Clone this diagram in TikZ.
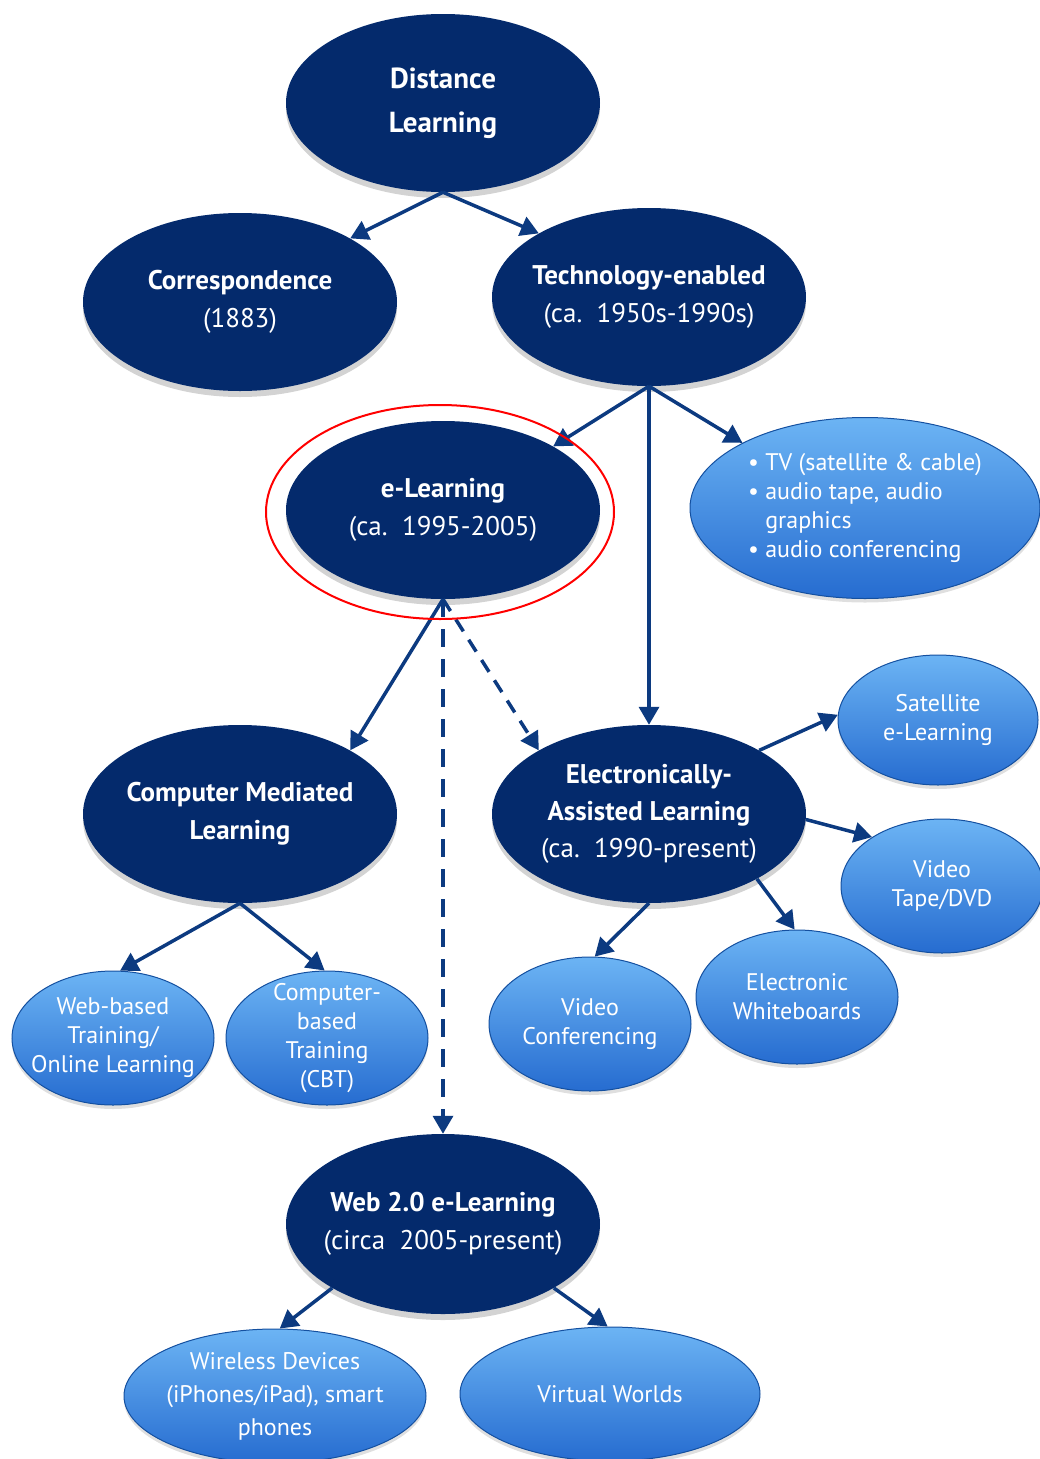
\documentclass[tikz,border=0pt]{standalone}
\usepackage{fontspec}
\setmainfont{PT Sans}
\usetikzlibrary{shapes.geometric,arrows.meta,shadows}

\definecolor{navy}{RGB}{4,42,108}
\definecolor{linkblue}{RGB}{12,58,128}
\definecolor{lighttop}{RGB}{108,180,244}
\definecolor{lightbot}{RGB}{38,108,208}
\definecolor{lightrim}{RGB}{20,80,160}

\begin{document}
\begin{tikzpicture}[x=1pt,y=-1pt,
  dark/.style={ellipse,fill=navy,text=white,inner sep=-30pt,
    minimum width=314pt,minimum height=178pt,align=center,
    font=\fontsize{27}{38}\selectfont,
    drop shadow={shadow xshift=0pt,shadow yshift=-6pt,opacity=0.35}},
  light/.style={ellipse,top color=lighttop,bottom color=lightbot,draw=lightrim,
    line width=1pt,text=white,inner sep=-30pt,
    minimum width=202pt,minimum height=134pt,align=center,
    font=\fontsize{24}{29}\selectfont,
    drop shadow={shadow xshift=0pt,shadow yshift=-4pt,opacity=0.25}},
  link/.style={draw=linkblue,line width=3.5pt,
    -{Triangle[length=18pt,width=20pt]}},
  dashlink/.style={link,dash pattern=on 18pt off 12pt}]

\useasboundingbox (0,0) rectangle (1039,1459);

\node[dark,font=\bfseries\fontsize{29}{44}\selectfont] (dl) at (443,103) {Distance\\Learning};
\node[dark] (corr) at (240,302) {\textbf{Correspondence}\\(1883)};
\node[dark] (tech) at (649,297) {\textbf{Technology-enabled}\\(ca.~~1950s-1990s)};
\node[dark] (el) at (443,510) {\textbf{e-Learning}\\(ca.~~1995-2005)};
\node[light,align=left,minimum width=350pt,minimum height=181pt] (tv) at (865,508)
  {\textbullet~TV (satellite \& cable)\\\textbullet~audio tape, audio\\\phantom{\textbullet~}graphics\\\textbullet~audio conferencing};

\node[dark,font=\bfseries\fontsize{27}{38}\selectfont] (cml) at (240,814) {Computer Mediated\\Learning};
\node[dark,font=\fontsize{27}{37}\selectfont] (eal) at (649,814) {\textbf{Electronically-}\\\textbf{Assisted Learning}\\(ca.~~1990-present)};

\node[light,minimum width=200pt,minimum height=130pt] (sat) at (938,720) {Satellite\\e-Learning};
\node[light] (vtd) at (942,886) {Video\\Tape/DVD};
\node[light] (ewb) at (797,997) {Electronic\\Whiteboards};
\node[light] (vconf) at (590,1024) {Video\\Conferencing};
\node[light] (wbt) at (113,1038) {Web-based\\Training/\\Online Learning};
\node[light] (cbt) at (327,1038) {Computer-\\based\\Training\\(CBT)};

\node[dark,minimum height=180pt] (web) at (443,1224) {\textbf{Web 2.0 e-Learning}\\(circa~~2005-present)};
\node[light,minimum width=302pt,minimum height=134pt,font=\fontsize{24}{33}\selectfont] (wless) at (275,1396)
  {Wireless Devices\\(iPhones/iPad), smart\\phones};
\node[light,minimum width=300pt,minimum height=134pt] (vworld) at (610,1394) {Virtual Worlds};

% arrows
\draw[link] (dl.south) -- (corr.30);
\draw[link] (dl.south) -- (tech.150);
\draw[link] (tech.south) -- (el.30);
\draw[link] (tech.south) -- (tv.152);
\draw[link] (tech.south) -- (eal.north);
\draw[link] (el.south) -- (cml.30);
\draw[dashlink,dash pattern=on 14pt off 10pt] (el.south) -- (eal.150);
\draw[dashlink] (el.south) -- (web.north);
\draw[link] (cml.south) -- (wbt.84);
\draw[link] (cml.south) -- (cbt.92);
\draw[link] (eal.30) -- (sat.177);
\draw[link] (eal.-2) -- (vtd.145);
\draw[link] (eal.-31) -- (ewb.92);
\draw[link] (eal.south) -- (vconf.86);
\draw[link] (web.210) -- (wless.86);
\draw[link] (web.330) -- (vworld.92);

\draw[red,line width=2pt] (440,512) ellipse (174pt and 107pt);

\end{tikzpicture}
\end{document}
